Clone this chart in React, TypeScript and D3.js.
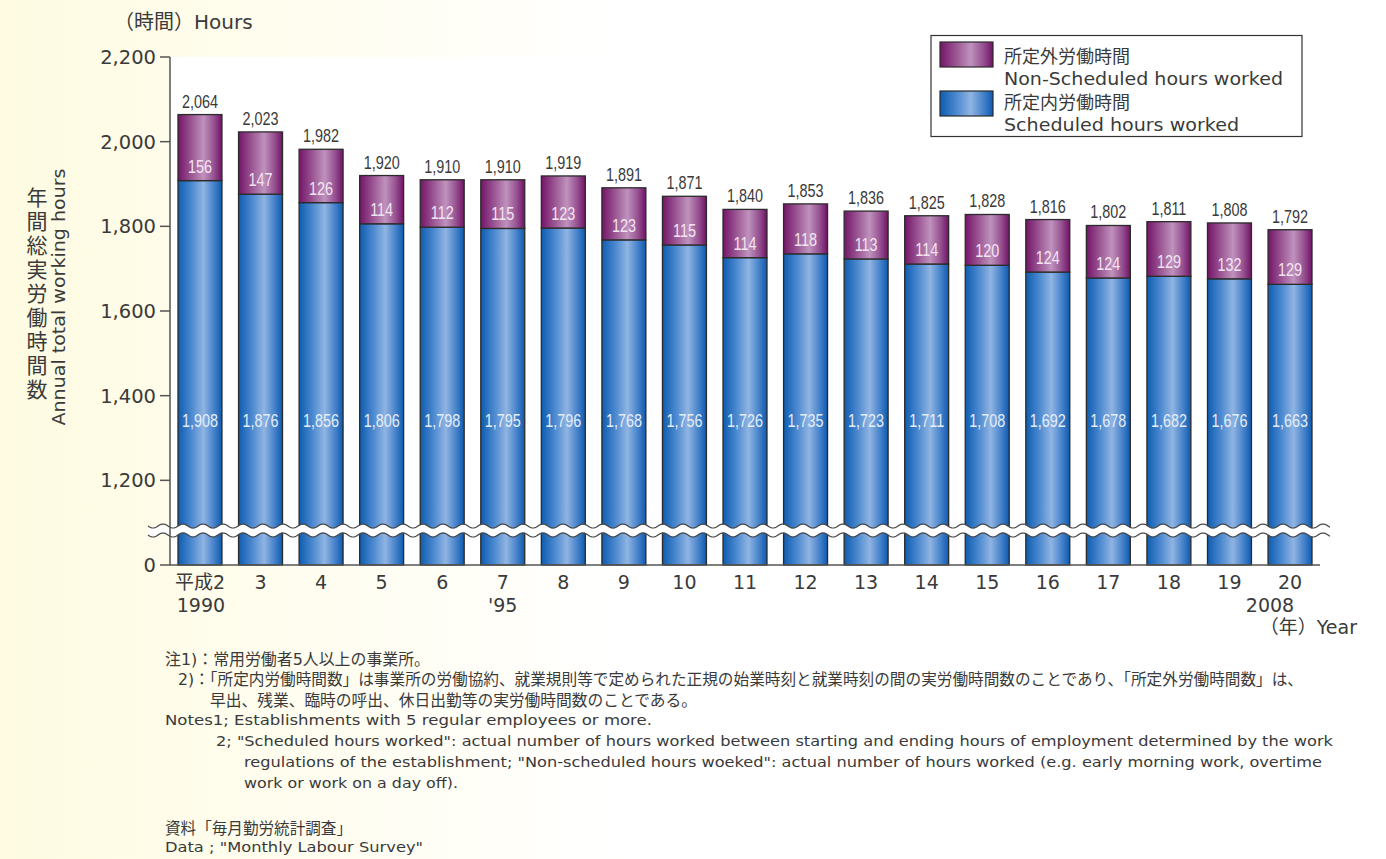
import React from "react";
import * as d3 from "d3";

const years = ["1990","1991","1992","1993","1994","1995","1996","1997","1998","1999","2000","2001","2002","2003","2004","2005","2006","2007","2008"];
const tickLine1 = ["平成2","3","4","5","6","7","8","9","10","11","12","13","14","15","16","17","18","19","20"];
const tickLine2 = ["1990","","","","","'95","","","","","","","","","","","","","2008"];
const scheduled = [1908,1876,1856,1806,1798,1795,1796,1768,1756,1726,1735,1723,1711,1708,1692,1678,1682,1676,1663];
const nonScheduled = [156,147,126,114,112,115,123,123,115,114,118,113,114,120,124,124,129,132,129];
const totals = [2064,2023,1982,1920,1910,1910,1919,1891,1871,1840,1853,1836,1825,1828,1816,1802,1811,1808,1792];
const yTicks = [1000,1200,1400,1600,1800,2000,2200];
const yTickLabel = (v: number) => (v === 1000 ? "0" : d3.format(",")(v));

const notes = [
  { text: "注1)：常用労働者5人以上の事業所。", x: 165, y: 665, len: 265, size: 16 },
  { text: "2)：「所定内労働時間数」は事業所の労働協約、就業規則等で定められた正規の始業時刻と就業時刻の間の実労働時間数のことであり、「所定外労働時間数」は、", x: 178, y: 685, len: 1125, size: 16 },
  { text: "早出、残業、臨時の呼出、休日出勤等の実労働時間数のことである。", x: 210, y: 706, len: 487, size: 16 },
  { text: "Notes1; Establishments with 5 regular employees or more.", x: 165, y: 725, len: 487, size: 14.5 },
  { text: "2; \"Scheduled hours worked\": actual number of hours worked between starting and ending hours of employment determined by the work", x: 216, y: 746, len: 1117, size: 14.5 },
  { text: "regulations of the establishment; \"Non-scheduled hours woeked\": actual number of hours worked (e.g. early morning work, overtime", x: 244, y: 767, len: 1078, size: 14.5 },
  { text: "work or work on a day off).", x: 244, y: 788, len: 214, size: 14.5 },
  { text: "資料「毎月勤労統計調査」", x: 165, y: 834, len: 187, size: 16 },
  { text: "Data ; \"Monthly Labour Survey\"", x: 165, y: 852, len: 258, size: 14.5 },
];

const W = 1386, H = 859;
const FONT = "'DejaVu Sans', 'Noto Sans CJK JP', sans-serif";
const CJKFONT = "'Noto Sans CJK JP', sans-serif";
const NUMFONT = "'Liberation Sans', Arial, sans-serif";
const TXT = "#3a3a3a";

function NumLabel({ x, y, text, fill }: { x: number; y: number; text: string; fill: string }) {
  return (
    <g transform={`translate(${x},${y}) scale(0.8,1)`}>
      <text x={0} y={0} textAnchor="middle" fontFamily={NUMFONT} fontSize={18} fill={fill}>{text}</text>
    </g>
  );
}

export default function App() {
  const x = d3.scaleBand<string>().domain(years).range([170, 1320]).paddingInner(0.274).paddingOuter(0.132);
  const y = d3.scaleLinear().domain([1000, 2200]).range([565, 57]);
  const bw = x.bandwidth();

  const breakX = d3.range(148, 1331, 1);
  const waveY = (base: number) => (xx: number) => base + 2 * Math.sin((2 * Math.PI * (xx - 148)) / 20);
  const w1 = waveY(526), w2 = waveY(535);
  const path1 = d3.line<number>().x((d) => d).y((d) => w1(d))(breakX) as string;
  const path2 = d3.line<number>().x((d) => d).y((d) => w2(d))(breakX) as string;
  const area = d3.area<number>().x((d) => d).y0((d) => w1(d) + 0.6).y1((d) => w2(d) - 0.6)(breakX) as string;

  return (
    <svg width={W} height={H} style={{ position: "absolute", left: 0, top: 0, display: "block" }} fontFamily={FONT}>
      <defs>
        <linearGradient id="bg" x1="0" x2="1" y1="0" y2="0">
          <stop offset="0" stopColor="#fefbe2" />
          <stop offset="0.2" stopColor="#fffdee" />
          <stop offset="0.45" stopColor="#ffffff" />
          <stop offset="1" stopColor="#ffffff" />
        </linearGradient>
        <linearGradient id="blue" x1="0" x2="1" y1="0" y2="0">
          <stop offset="0" stopColor="#0e5cb0" />
          <stop offset="0.3" stopColor="#4a88cf" />
          <stop offset="0.58" stopColor="#90b4e2" />
          <stop offset="0.82" stopColor="#4582cb" />
          <stop offset="1" stopColor="#0e5aae" />
        </linearGradient>
        <linearGradient id="purple" x1="0" x2="1" y1="0" y2="0">
          <stop offset="0" stopColor="#741468" />
          <stop offset="0.3" stopColor="#9a5592" />
          <stop offset="0.58" stopColor="#bf92bd" />
          <stop offset="0.82" stopColor="#955090" />
          <stop offset="1" stopColor="#711265" />
        </linearGradient>
      </defs>
      <rect x={0} y={0} width={W} height={H} fill="url(#bg)" />
      <rect x={170} y={57} width={1160} height={508} fill="#ffffff" />

      {/* bars */}
      {years.map((yr, i) => {
        const bx = x(yr) as number;
        const ys = y(scheduled[i]);
        const yt = y(scheduled[i] + nonScheduled[i]);
        const cx = bx + bw / 2;
        return (
          <g key={yr}>
            <rect x={bx} y={ys} width={bw} height={y(1000) - ys} fill="url(#blue)" stroke="#2b2b2b" strokeWidth={1.3} />
            <rect x={bx} y={yt} width={bw} height={ys - yt} fill="url(#purple)" stroke="#2b2b2b" strokeWidth={1.3} />
            <NumLabel x={cx} y={yt - 7} text={d3.format(",")(totals[i])} fill={TXT} />
            <NumLabel x={cx} y={ys - 8} text={String(nonScheduled[i])} fill="#f3e4f2" />
            <NumLabel x={cx} y={427} text={d3.format(",")(scheduled[i])} fill="#e4edf8" />
          </g>
        );
      })}

      {/* axis break */}
      <path d={area} fill="#ffffff" />
      <path d={path1} fill="none" stroke="#4a4a4a" strokeWidth={1.2} />
      <path d={path2} fill="none" stroke="#4a4a4a" strokeWidth={1.2} />

      {/* y axis */}
      <line x1={170} x2={170} y1={57} y2={565} stroke="#555" strokeWidth={1.5} />
      {yTicks.map((t) => (
        <g key={t}>
          <line x1={160} x2={170} y1={y(t)} y2={y(t)} stroke="#555" strokeWidth={1.5} />
          <text x={156} y={y(t) + 7} textAnchor="end" fontSize={19.5} fill={TXT}>{yTickLabel(t)}</text>
        </g>
      ))}
      {/* x axis */}
      <line x1={170} x2={1320} y1={565} y2={565} stroke="#555" strokeWidth={1.5} />
      {years.map((yr, i) => (
        <g key={"t" + yr}>
          <text x={(x(yr) as number) + bw / 2} y={589} textAnchor="middle" fontSize={19} fill={TXT}>{tickLine1[i]}</text>
          {tickLine2[i] && (
            <text x={(x(yr) as number) + bw / 2 + (i === 18 ? -20 : i === 0 ? 1 : 0)} y={612} textAnchor="middle" fontSize={19} fill={TXT}>{tickLine2[i]}</text>
          )}
        </g>
      ))}
      <text x={1357} y={634} textAnchor="end" fontSize={19} fill={TXT}>（年）Year</text>

      {/* titles */}
      <text x={114} y={29} fontSize={20} fill={TXT}>（時間）Hours</text>
      <text x={37} y={187} fontFamily={CJKFONT} fontSize={21} fill={TXT} letterSpacing={3} style={{ writingMode: "vertical-rl" }}>年間総実労働時間数</text>
      <text transform="translate(65,297) rotate(-90)" textAnchor="middle" fontSize={17} fill={TXT} textLength={257} lengthAdjust="spacingAndGlyphs">Annual total working hours</text>

      {/* legend */}
      <rect x={931} y={35.5} width={371} height={101} fill="#ffffff" stroke="#333" strokeWidth={1.2} />
      <rect x={940} y={42} width={53} height={25} fill="url(#purple)" stroke="#2b2b2b" strokeWidth={1.2} />
      <rect x={940} y={91} width={53} height={25} fill="url(#blue)" stroke="#2b2b2b" strokeWidth={1.2} />
      <text x={1004} y={63} fontSize={18} fill={TXT}>所定外労働時間</text>
      <text x={1004} y={85} fontSize={18} fill={TXT} textLength={279} lengthAdjust="spacingAndGlyphs">Non-Scheduled hours worked</text>
      <text x={1004} y={109} fontSize={18} fill={TXT}>所定内労働時間</text>
      <text x={1004} y={131} fontSize={18} fill={TXT} textLength={235} lengthAdjust="spacingAndGlyphs">Scheduled hours worked</text>

      {/* notes */}
      {notes.map((n, i) => (
        <text key={i} x={n.x} y={n.y} fontSize={n.size} fill={TXT} textLength={n.len} lengthAdjust="spacingAndGlyphs">{n.text}</text>
      ))}
    </svg>
  );
}
